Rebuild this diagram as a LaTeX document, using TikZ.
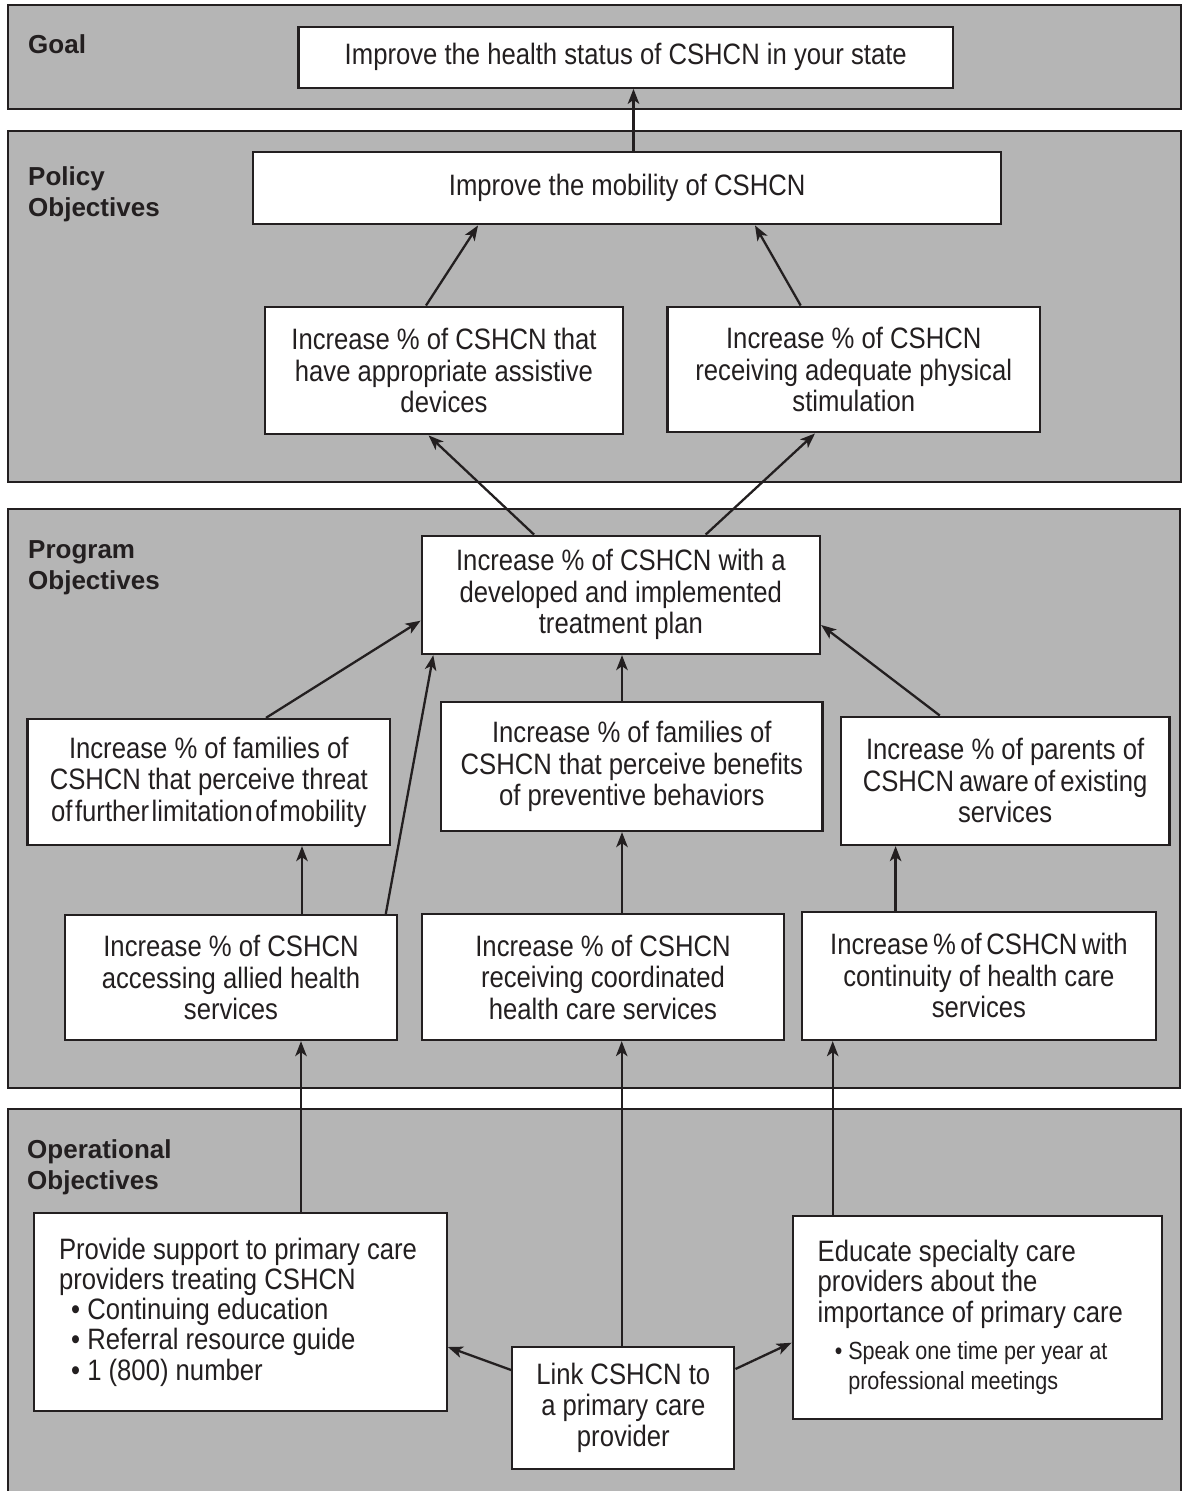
\documentclass[tikz,border=0pt]{standalone}
\usepackage{fontspec}
\setmainfont{Liberation Sans}[FakeStretch=0.87]
\newfontfamily\lblfont{Liberation Sans}
\usetikzlibrary{arrows.meta}
\definecolor{ink}{HTML}{231F20}
\definecolor{bandgray}{HTML}{B5B5B5}
% a line whose word spaces are tighter than normal
\newcommand\narrowwords[2][1.5pt]{\mbox{\spaceskip=#1\relax #2}}
% use the font's own word space inside left-aligned boxes
\newcommand\fontspaces{\spaceskip=0pt\xspaceskip=0pt\relax}

\begin{document}
\begin{tikzpicture}[x=1pt,y=-1pt,
  bandbox/.style={draw=ink, fill=bandgray, line width=2.3pt},
  box/.style={draw=ink, fill=white, line width=2.3pt, inner sep=0pt, align=center,
    text=ink, font=\fontsize{29.5}{31.5}\selectfont},
  lbl/.style={inner sep=0pt, anchor=north west, align=left, text=ink,
    font=\lblfont\bfseries\fontsize{26}{31}\selectfont},
  arr/.style={draw=ink, line width=2.3pt, -{Stealth[length=15pt,width=11.5pt,inset=4pt]}},
]
\clip (0,0) rectangle (1183,1491);
\fill[white] (0,0) rectangle (1183,1491);

% tiers
\draw[bandbox] (8,5) rectangle (1181,108.7);
\draw[bandbox] (8,130.7) rectangle (1181,482.3);
\draw[bandbox] (8,509.3) rectangle (1180,1088);
\draw[bandbox] (8,1109) rectangle (1181,1510);

% tier labels
\node[lbl, anchor=base west] (lgoal) at (28,53) {Goal};
\node[lbl] (lpolicy) at (28,166.5) {Policy\\Objectives};
\node[lbl] (lprogram) at (28,540.5) {Program\\Objectives};
\node[lbl] (loper) at (27,1139) {Operational\\Objectives};

% objectives
\node[box, minimum width=654.5pt, minimum height=61pt] (goal) at (625.75,57.2)
  {Improve the health status of CSHCN in your state};
\node[box, minimum width=747.7pt, minimum height=72pt] (mob) at (627.15,188.3)
  {Improve the mobility of CSHCN};
\node[box, minimum width=358pt, minimum height=127.6pt] (assist) at (444,370.5)
  {Increase \% of CSHCN that\\have appropriate assistive\\devices};
\node[box, minimum width=372.5pt, minimum height=125.6pt] (phys) at (853.75,369.5)
  {Increase \% of CSHCN\\receiving adequate physical\\stimulation};
\node[box, minimum width=398.3pt, minimum height=118.3pt] (treat) at (620.85,594.85)
  {Increase \% of CSHCN with a\\developed and implemented\\treatment plan};
\node[box, minimum width=362.4pt, minimum height=126pt] (threat) at (208.8,782)
  {Increase \% of families of\\CSHCN that perceive threat\\\narrowwords[2.5pt]{of further limitation of mobility}};
\node[box, minimum width=381.6pt, minimum height=129pt] (benef) at (631.8,766.5)
  {Increase \% of families of\\CSHCN that perceive benefits\\of preventive behaviors};
\node[box, minimum width=328.6pt, minimum height=128.3pt] (parents) at (1005.1,780.85)
  {Increase \% of parents of\\\narrowwords[5pt]{CSHCN aware of existing}\\services};
\node[box, minimum width=332pt, minimum height=125pt] (allied) at (231,977.5)
  {Increase \% of CSHCN\\accessing allied health\\services};
\node[box, minimum width=362pt, minimum height=126pt] (coord) at (603,977)
  {Increase \% of CSHCN\\receiving coordinated\\health care services};
\node[box, minimum width=354.2pt, minimum height=128.3pt] (contin) at (978.9,975.85)
  {\narrowwords[4.5pt]{Increase \% of CSHCN with}\\continuity of health care\\services};
\node[box, align=left, text width=363pt, inner xsep=24.7pt, minimum width=412.4pt,
  minimum height=197.4pt, font=\fontsize{29.5}{30.2}\selectfont] (support) at (240.5,1312)
  {\fontspaces\mbox{Provide support to primary care}\\providers treating CSHCN\\
   \hspace*{28.3pt}\llap{•\ }Continuing education\\
   \hspace*{28.3pt}\llap{•\ }Referral resource guide\\
   \hspace*{28.3pt}\llap{•\ }1 (800) number};
\node[box, align=left, text width=319pt, inner xsep=25pt, minimum width=369pt,
  minimum height=203.3pt, font=\fontsize{29.5}{30.7}\selectfont] (educ) at (977.2,1317.35)
  {\fontspaces Educate specialty care\\providers about the\\\mbox{importance of primary care}\\[8.5pt]
   \fontsize{24.8}{28.3}\selectfont\hspace*{30.6pt}\llap{•\ }Speak one time per year at\\
   \hspace*{30.6pt}professional meetings};
\node[box, minimum width=222pt, minimum height=122.3pt, font=\fontsize{29.5}{31}\selectfont]
  (link) at (623.3,1407.85) {Link CSHCN to\\a primary care\\provider};

% links between objectives
\draw[arr] ([xshift=6.35pt]mob.north) -- ([xshift=6.35pt]mob.north |- goal.south);
\draw[arr] ([xshift=-18pt]assist.north) -- ([xshift=-149.15pt]mob.south);
\draw[arr] ([xshift=-53.05pt]phys.north) -- ([xshift=127.85pt]mob.south);
\draw[arr] ([xshift=-86.85pt]treat.north) -- ([xshift=-15.4pt]assist.south);
\draw[arr] ([xshift=84.85pt]treat.north) -- ([xshift=-38.75pt]phys.south);
\draw[arr] ([xshift=57.2pt]threat.north) -- ([yshift=-25.85pt]treat.west);
\draw[arr] ([xshift=154.8pt]allied.north) -- ([xshift=-187.55pt]treat.south);
\draw[arr] ([xshift=-9.8pt]benef.north) -- ([xshift=-9.8pt]benef.north |- treat.south);
\draw[arr] ([xshift=-65.3pt]parents.north) -- ([yshift=-30.15pt]treat.east);
\draw[arr] ([xshift=71pt]allied.north) -- ([xshift=71pt]allied.north |- threat.south);
\draw[arr] ([xshift=19pt]coord.north) -- ([xshift=19pt]coord.north |- benef.south);
\draw[arr] ([xshift=-83.3pt]contin.north) -- ([xshift=-83.3pt]contin.north |- parents.south);
\draw[arr] ([xshift=60.5pt]support.north) -- ([xshift=60.5pt]support.north |- allied.south);
\draw[arr] ([xshift=-1.6pt]link.north) -- ([xshift=-1.6pt]link.north |- coord.south);
\draw[arr] ([xshift=-144.5pt]educ.north) -- ([xshift=-144.5pt]educ.north |- contin.south);
\draw[arr] ([yshift=37.85pt]link.west) -- ([yshift=-35pt]support.east);
\draw[arr] ([yshift=38.85pt]link.east) -- ([yshift=-25.35pt]educ.west);
\end{tikzpicture}
\end{document}
